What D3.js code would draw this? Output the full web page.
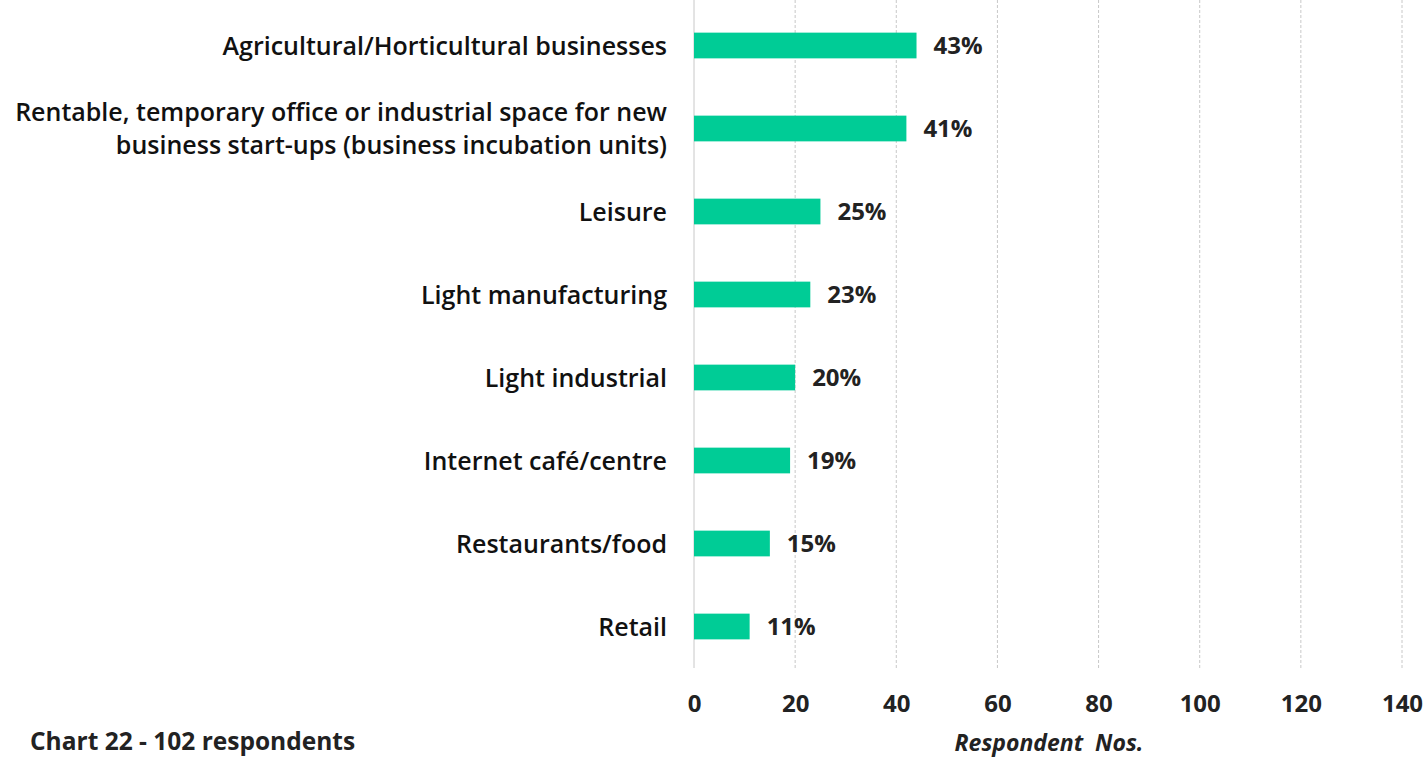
<!DOCTYPE html>
<html><head><meta charset="utf-8">
<script src="https://cdn.jsdelivr.net/npm/d3@7"></script>
<style>body{margin:0;background:#fff}svg{display:block}</style>
</head><body>
<svg id="c" width="1426" height="757"></svg>
<script>
const categories = [
  ["Agricultural/Horticultural businesses"],
  ["Rentable, temporary office or industrial space for new", "business start-ups (business incubation units)"],
  ["Leisure"],
  ["Light manufacturing"],
  ["Light industrial"],
  ["Internet café/centre"],
  ["Restaurants/food"],
  ["Retail"]
];
const values = [44, 42, 25, 23, 20, 19, 15, 11];
const percentLabels = ["43%", "41%", "25%", "23%", "20%", "19%", "15%", "11%"];
const tickValues = [0, 20, 40, 60, 80, 100, 120, 140];
const xTitle = "Respondent  Nos.";
const note = "Chart 22 - 102 respondents";

const font = "'Open Sans', sans-serif";
const svg = d3.select("#c");
const x = d3.scaleLinear().domain([0, 140]).range([694, 1402]);
const y = d3.scaleBand().domain(d3.range(categories.length)).range([4, 668]).paddingInner(0.69).paddingOuter(0.345);

// gridlines
svg.append("g").selectAll("line").data(tickValues).join("line")
  .attr("x1", d => x(d)).attr("x2", d => x(d))
  .attr("y1", 0).attr("y2", 668)
  .attr("stroke", "#c8c8c8").attr("stroke-width", 1)
  .attr("stroke-dasharray", d => d === 0 ? null : "3,2");

// bars
svg.append("g").selectAll("rect").data(values).join("rect")
  .attr("x", x(0)).attr("y", (d, i) => y(i))
  .attr("width", d => x(d) - x(0)).attr("height", y.bandwidth())
  .attr("fill", "#00cc96");

// value labels
svg.append("g").selectAll("text").data(values).join("text")
  .attr("x", d => x(d) + 17).attr("y", (d, i) => y(i) + y.bandwidth() / 2)
  .attr("dy", "0.36em")
  .attr("font-family", font).attr("font-weight", "bold").attr("font-size", 24)
  .attr("fill", "#222")
  .text((d, i) => percentLabels[i]);

// category labels
const cl = svg.append("g").selectAll("text").data(categories).join("text")
  .attr("text-anchor", "end")
  .attr("font-family", font).attr("font-weight", 600).attr("font-size", 25).attr("fill", "#111")
  .attr("transform", (d, i) => `translate(667,${y(i) + y.bandwidth() / 2})`);
cl.each(function(lines) {
  const t = d3.select(this);
  const n = lines.length;
  lines.forEach((s, k) => {
    t.append("tspan").attr("x", 0).attr("y", (k - (n - 1) / 2) * 33).attr("dy", "0.36em").text(s);
  });
});

// x axis tick labels
const ax = d3.axisBottom(x).tickValues(tickValues).tickSize(0).tickPadding(0);
const g = svg.append("g").attr("transform", "translate(0,698)").call(ax);
g.select(".domain").remove();
g.selectAll("text").attr("font-family", font).attr("font-weight", "bold")
  .attr("font-size", 24).attr("fill", "#222").attr("dy", "0.6em");

svg.append("text").attr("x", 1049).attr("y", 751).attr("text-anchor", "middle")
  .attr("font-family", font).attr("font-weight", "bold").attr("font-style", "italic")
  .attr("font-size", 23).attr("fill", "#222").attr("xml:space", "preserve").text(xTitle);

svg.append("text").attr("x", 30).attr("y", 750)
  .attr("font-family", font).attr("font-weight", "bold")
  .attr("font-size", 24.5).attr("fill", "#222").text(note);
</script>
</body></html>
